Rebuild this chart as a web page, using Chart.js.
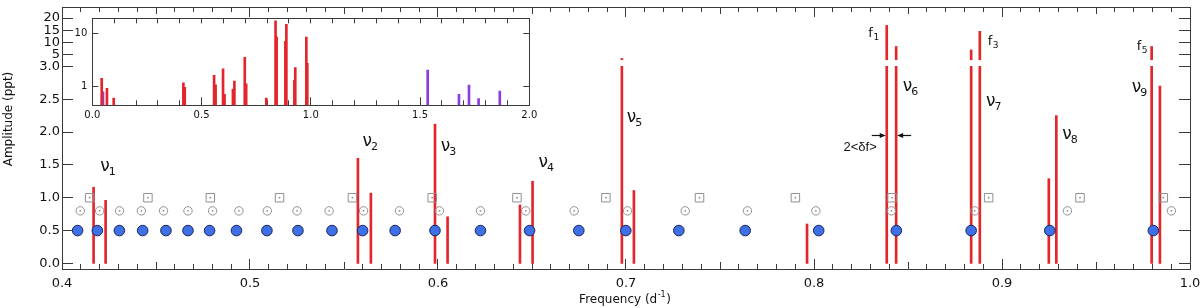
<!DOCTYPE html>
<html><head><meta charset="utf-8">
<script src="https://cdn.jsdelivr.net/npm/chart.js@4/dist/chart.umd.min.js"></script>
<style>
html,body{margin:0;padding:0;background:#fff;}
#wrap{position:relative;width:1200px;height:308px;overflow:hidden;}
#main{position:absolute;left:0;top:0;width:1200px;height:308px;}
#inset{position:absolute;left:60px;top:10px;width:490px;height:125px;}
</style>
</head><body>
<div id="wrap"><canvas id="main" width="1200" height="308"></canvas><canvas id="inset" width="490" height="125"></canvas></div>
<script>
// ---------- data (main panel) ----------
const peakFreqs = [0.4168, 0.4232, 0.5574, 0.5643, 0.5984, 0.6051, 0.6436, 0.6503, 0.6978, 0.7042, 0.7963, 0.8387, 0.8437, 0.8836, 0.8882, 0.9249, 0.9289, 0.9796, 0.9840];
const peakAmps  = [1.16, 0.96, 1.60, 1.07, 2.12, 0.71, 0.89, 1.25, 3.5, 1.11, 0.60, 17.0, 8.4, 7.0, 14.6, 1.29, 2.25, 8.4, 2.70];

const blueFreqs = [0.4083, 0.4188, 0.4305, 0.4429, 0.4553, 0.4670, 0.4785, 0.4928, 0.5090, 0.5255, 0.5436, 0.5599, 0.5772, 0.5984, 0.6226, 0.6487, 0.6749, 0.6999, 0.7281, 0.7634, 0.8025, 0.8438, 0.8836, 0.9254, 0.9805];
const blueLevel = 0.5;
const ringFreqs = [0.4097, 0.4200, 0.4306, 0.4422, 0.4540, 0.4670, 0.4801, 0.4941, 0.5092, 0.5250, 0.5421, 0.5604, 0.5795, 0.6008, 0.6226, 0.6467, 0.6724, 0.7008, 0.7315, 0.7646, 0.8010, 0.8412, 0.8855, 0.9348, 0.9901];
const ringLevel = 0.8;
const squareFreqs = [0.4147, 0.4457, 0.4789, 0.5157, 0.5545, 0.5969, 0.6420, 0.6893, 0.7391, 0.7901, 0.8415, 0.8929, 0.9415, 0.9858];
const squareLevel = 1.0;

const xTickValues = [0.4, 0.5, 0.6, 0.7, 0.8, 0.9, 1.0];
const xTickLabels = ['0.4', '0.5', '0.6', '0.7', '0.8', '0.9', '1.0'];
const yTickValues = [0, 0.5, 1, 1.5, 2, 2.5, 3, 5, 10, 15, 20];
const yTickLabels = ['0.0', '0.5', '1.0', '1.5', '2.0', '2.5', '3.0', '5', '10', '15', '20'];

// labels nu_i
const nuSubs   = ['1', '2', '3', '4', '5', '6', '7', '8', '9'];
const nuFreqs  = [0.4204, 0.5598, 0.6015, 0.6535, 0.7004, 0.8472, 0.8915, 0.9321, 0.9690];
const nuLevels = [1.40, 1.79, 1.71, 1.47, 2.15, 2.62, 2.40, 1.90, 2.61];
// labels f_i
const fSubs   = ['1', '3', '5'];
const fFreqs  = [0.8289, 0.8924, 0.9717];
const fLevels = [12.3, 8.9, 6.9];

// ---------- data (inset) ----------
const insetExtraFreqs  = [0.043, 0.067, 0.098];
const insetExtraAmps   = [1.41, 0.92, 0.60];
const insetPurpleFreqs = [0.049, 1.535, 1.678, 1.724, 1.768, 1.865];
const insetPurpleAmps  = [0.79, 2.02, 0.71, 1.06, 0.59, 0.81];
const insetXTickValues = [0, 0.5, 1, 1.5, 2];
const insetXTickLabels = ['0.0', '0.5', '1.0', '1.5', '2.0'];
const insetYTickValues = [1, 10];
const insetYTickLabels = ['1', '10'];

// ---------- broken y-axis transform ----------
const BREAK = 3.0, GAP = 0.1, UPPER = 0.03735;
function T(v) { return v <= BREAK ? v : BREAK + GAP + (v - BREAK) * UPPER; }

const AX = '#3a3a3a';
const RED = '#e3262c';
const PURPLE = '#8d3ce0';
const FONT = 'DejaVu Sans';

function range(a, b, step) { const out = []; const n = Math.round((b - a) / step); for (let i = 0; i <= n; i++) out.push(+(a + i * step).toFixed(6)); return out; }

function tickAxis(pos, min, max, values, len, border, type) {
  const horiz = pos === 'top' || pos === 'bottom';
  return {
    type: type || 'linear', position: pos, min, max, offset: false, weight: 0,
    afterBuildTicks: s => { s.ticks = values.map(v => ({ value: v })); },
    afterFit: s => { if (horiz) s.height = 0; else s.width = 0; s.paddingLeft = s.paddingRight = s.paddingTop = s.paddingBottom = 0; },
    ticks: { display: false, autoSkip: false },
    grid: { display: true, drawOnChartArea: false, drawTicks: true, tickLength: -len, color: AX, lineWidth: 1, offset: false },
    border: { display: !!border, color: AX, width: 1 }
  };
}

// ---------- main chart ----------
const lowerSegs = peakFreqs.map((f, i) => ({ x: f, y: [0, Math.min(peakAmps[i], BREAK)] }));
const upperSegs = peakFreqs.map((f, i) => ({ f, a: peakAmps[i] })).filter(d => d.a > BREAK)
  .map(d => ({ x: d.f, y: [BREAK + GAP, T(d.a)] }));

const xMajor = xTickValues;
const xMid = range(0.45, 0.95, 0.1);
const xMinor = range(0.4, 1.0, 0.01);
const yT = yTickValues.map(T);
const YMIN = -0.085, YMAX = 3.903;

const annot = {
  id: 'annot',
  afterDatasetsDraw(chart) {
    const { ctx } = chart;
    const x = chart.scales.x, y = chart.scales.y;
    ctx.save();
    ctx.fillStyle = '#111';
    ctx.textAlign = 'left';
    ctx.textBaseline = 'alphabetic';
    nuSubs.forEach((s, i) => {
      const px = x.getPixelForValue(nuFreqs[i]);
      const py = y.getPixelForValue(T(nuLevels[i]));
      ctx.font = '17px "' + FONT + '"';
      ctx.fillText('ν', px, py);
      const w = ctx.measureText('ν').width;
      ctx.font = '11px "' + FONT + '"';
      ctx.fillText(s, px + w - 1, py + 4);
    });
    fSubs.forEach((s, i) => {
      const px = x.getPixelForValue(fFreqs[i]);
      const py = y.getPixelForValue(T(fLevels[i]));
      ctx.font = '13px "' + FONT + '"';
      ctx.fillText('f', px, py);
      const w = ctx.measureText('f').width;
      ctx.font = '9px "' + FONT + '"';
      ctx.fillText(s, px + w + 0.5, py + 3);
    });
    // 2<δf> arrows between f1 and nu6
    const ay = Math.round(y.getPixelForValue(1.96)) + 0.5;
    const xa = x.getPixelForValue(peakFreqs[11]) - 1;
    const xb = x.getPixelForValue(peakFreqs[12]) + 1;
    ctx.strokeStyle = '#111'; ctx.lineWidth = 1.2;
    ctx.beginPath(); ctx.moveTo(xa - 14, ay); ctx.lineTo(xa - 4, ay); ctx.stroke();
    ctx.beginPath(); ctx.moveTo(xa, ay); ctx.lineTo(xa - 6, ay - 2.5); ctx.lineTo(xa - 6, ay + 2.5); ctx.closePath(); ctx.fill();
    ctx.beginPath(); ctx.moveTo(xb + 14, ay); ctx.lineTo(xb + 4, ay); ctx.stroke();
    ctx.beginPath(); ctx.moveTo(xb, ay); ctx.lineTo(xb + 6, ay - 2.5); ctx.lineTo(xb + 6, ay + 2.5); ctx.closePath(); ctx.fill();
    ctx.font = '13px "Liberation Sans"';
    ctx.textAlign = 'right';
    ctx.fillText('2<δf>', x.getPixelForValue(0.8334), y.getPixelForValue(1.714));
    ctx.restore();
  },
  afterDraw(chart) {
    const { ctx } = chart;
    ctx.save();
    ctx.fillStyle = '#111';
    // y title
    ctx.translate(9, 119);
    ctx.rotate(-Math.PI / 2);
    ctx.font = '12px "' + FONT + '"';
    ctx.textAlign = 'center';
    ctx.textBaseline = 'middle';
    ctx.fillText('Amplitude (ppt)', 0, 0);
    ctx.restore();
    // x title with superscript
    ctx.save();
    ctx.fillStyle = '#111';
    ctx.textBaseline = 'alphabetic';
    ctx.textAlign = 'left';
    const a = 'Frequency (d', sup = '-1', b = ')';
    ctx.font = '12px "' + FONT + '"';
    const wa = ctx.measureText(a).width, wb = ctx.measureText(b).width;
    ctx.font = '8px "' + FONT + '"';
    const ws = ctx.measureText(sup).width;
    let x0 = 625 - (wa + ws + wb + 1) / 2;
    const by = 303;
    ctx.font = '12px "' + FONT + '"';
    ctx.fillText(a, x0, by);
    ctx.font = '8px "' + FONT + '"';
    ctx.fillText(sup, x0 + wa + 0.5, by - 6);
    ctx.font = '12px "' + FONT + '"';
    ctx.fillText(b, x0 + wa + ws + 1, by);
    ctx.restore();
  }
};

new Chart(document.getElementById('main'), {
  type: 'bar',
  data: {
    datasets: [
      { type: 'bar', data: lowerSegs, backgroundColor: RED, borderWidth: 0, barThickness: 2, grouped: false, order: 3 },
      { type: 'bar', data: upperSegs, backgroundColor: RED, borderWidth: 0, barThickness: 2, grouped: false, order: 3 },
      { type: 'scatter', data: squareFreqs.map(f => ({ x: f, y: squareLevel })), pointStyle: 'rect', pointRadius: 6, pointBackgroundColor: 'rgba(255,255,255,0)', pointBorderColor: '#909090', pointBorderWidth: 1, order: 2 },
      { type: 'scatter', data: squareFreqs.map(f => ({ x: f, y: squareLevel })), pointRadius: 0.9, pointBackgroundColor: '#909090', pointBorderWidth: 0, order: 2 },
      { type: 'scatter', data: ringFreqs.map(f => ({ x: f, y: ringLevel })), pointRadius: 4.2, pointBackgroundColor: 'rgba(255,255,255,0)', pointBorderColor: '#909090', pointBorderWidth: 1, order: 2 },
      { type: 'scatter', data: ringFreqs.map(f => ({ x: f, y: ringLevel })), pointRadius: 0.9, pointBackgroundColor: '#909090', pointBorderWidth: 0, order: 2 },
      { type: 'scatter', data: blueFreqs.map(f => ({ x: f, y: blueLevel })), pointRadius: 5.3, pointBackgroundColor: '#3f6fe6', pointBorderColor: '#16245a', pointBorderWidth: 1, order: 1 }
    ]
  },
  options: {
    responsive: false, animation: false, events: [],
    layout: { padding: { top: 3, right: 10, left: 0, bottom: 0 } },
    plugins: { legend: { display: false }, tooltip: { enabled: false } },
    scales: {
      x: {
        type: 'linear', position: 'bottom', min: 0.4, max: 1.0, offset: false, weight: 5,
        afterBuildTicks: s => { s.ticks = xTickValues.map(v => ({ value: v })); },
        afterFit: s => { s.height = 39; s.paddingLeft = 0; s.paddingRight = 0; },
        ticks: { callback: (v, i) => xTickLabels[i], autoSkip: false, maxRotation: 0, padding: 6.5, font: { family: FONT, size: 13 }, color: '#111' },
        grid: { display: false, drawTicks: false, offset: false },
        border: { display: true, color: AX, width: 1 }
      },
      xb1: tickAxis('bottom', 0.4, 1.0, xMajor, 10),
      xb2: tickAxis('bottom', 0.4, 1.0, xMid, 7),
      xb3: tickAxis('bottom', 0.4, 1.0, xMinor, 5),
      xt1: tickAxis('top', 0.4, 1.0, xMajor, 10, true),
      xt2: tickAxis('top', 0.4, 1.0, xMid, 7),
      xt3: tickAxis('top', 0.4, 1.0, xMinor, 5),
      y: {
        type: 'linear', position: 'left', min: YMIN, max: YMAX, weight: 5,
        afterBuildTicks: s => { s.ticks = yT.map(v => ({ value: v })); },
        afterFit: s => { s.width = 62; s.paddingTop = 0; s.paddingBottom = 0; },
        ticks: { callback: (v, i) => yTickLabels[i], autoSkip: false, padding: 2, font: { family: FONT, size: 13 }, color: '#111' },
        grid: { display: false, drawTicks: false },
        border: { display: true, color: AX, width: 1 }
      },
      yl: tickAxis('left', YMIN, YMAX, yT, 11),
      yr: tickAxis('right', YMIN, YMAX, yT, 11, true)
    }
  },
  plugins: [annot]
});

// ---------- inset chart ----------
const INSET_YMIN = 0.44, INSET_YMAX = 18.9;
const insetRedFreqs = insetExtraFreqs.concat(peakFreqs);
const insetRedAmps = insetExtraAmps.concat(peakAmps);

new Chart(document.getElementById('inset'), {
  type: 'bar',
  data: {
    datasets: [
      { data: insetRedFreqs.map((f, i) => ({ x: f, y: [INSET_YMIN, insetRedAmps[i]] })), backgroundColor: RED, borderWidth: 0, barThickness: 2, grouped: false },
      { data: insetPurpleFreqs.map((f, i) => ({ x: f, y: [INSET_YMIN, insetPurpleAmps[i]] })), backgroundColor: PURPLE, borderWidth: 0, barThickness: 2, grouped: false }
    ]
  },
  options: {
    responsive: false, animation: false, events: [],
    layout: { padding: { top: 8.3, right: 20.7, left: 0, bottom: 0 } },
    plugins: { legend: { display: false }, tooltip: { enabled: false } },
    scales: {
      x: {
        type: 'linear', position: 'bottom', min: 0, max: 2, offset: false, weight: 5,
        afterBuildTicks: s => { s.ticks = insetXTickValues.map(v => ({ value: v })); },
        afterFit: s => { s.height = 29.7; s.paddingLeft = 0; s.paddingRight = 0; },
        ticks: { callback: (v, i) => insetXTickLabels[i], autoSkip: false, maxRotation: 0, padding: 4.5, font: { family: FONT, size: 10 }, color: '#111' },
        grid: { display: false, drawTicks: false, offset: false },
        border: { display: true, color: AX, width: 1 }
      },
      xb1: tickAxis('bottom', 0, 2, insetXTickValues, 8),
      xb2: tickAxis('bottom', 0, 2, range(0, 2, 0.1), 5),
      xt1: tickAxis('top', 0, 2, range(0, 2, 0.1), 5, true),
      y: {
        type: 'logarithmic', position: 'left', min: INSET_YMIN, max: INSET_YMAX, weight: 5,
        afterBuildTicks: s => { s.ticks = insetYTickValues.map(v => ({ value: v })); },
        afterFit: s => { s.width = 32.3; s.paddingTop = 0; s.paddingBottom = 0; },
        ticks: { callback: (v, i) => insetYTickLabels[i], autoSkip: false, padding: 5, font: { family: FONT, size: 10 }, color: '#111' },
        grid: { display: false, drawTicks: false },
        border: { display: true, color: AX, width: 1 }
      },
      yl: tickAxis('left', INSET_YMIN, INSET_YMAX, insetYTickValues, 6, false, 'logarithmic'),
      yr: tickAxis('right', INSET_YMIN, INSET_YMAX, insetYTickValues, 6, true, 'logarithmic')
    }
  }
});
</script>
</body></html>
